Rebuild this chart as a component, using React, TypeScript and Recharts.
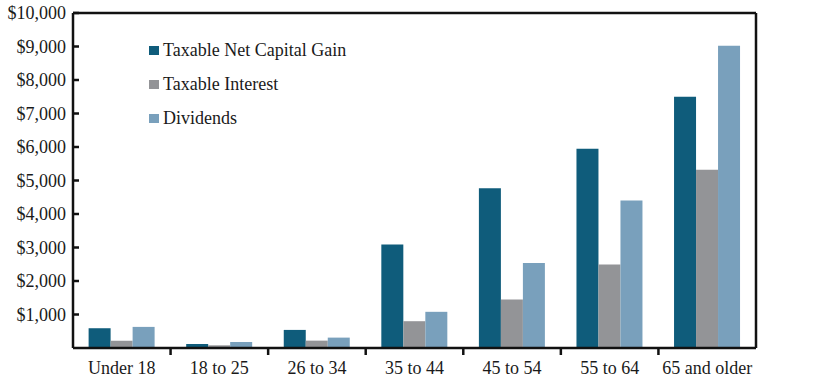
import React from 'react';
import { BarChart, Bar, XAxis, YAxis, ReferenceLine } from 'recharts';

const categories = ['Under 18', '18 to 25', '26 to 34', '35 to 44', '45 to 54', '55 to 64', '65 and older'];
const capitalGain = [590, 120, 540, 3090, 4770, 5950, 7500];
const interest = [220, 80, 220, 800, 1450, 2490, 5320];
const dividends = [630, 180, 310, 1080, 2540, 4400, 9020];
const yTicks = [1000, 2000, 3000, 4000, 5000, 6000, 7000, 8000, 9000, 10000];

const seriesNames = ['Taxable Net Capital Gain', 'Taxable Interest', 'Dividends'];
const colors = ['#0f5c7b', '#939497', '#79a0bc'];

const data = categories.map((c, i) => ({
  name: c,
  gain: capitalGain[i],
  interest: interest[i],
  dividends: dividends[i],
}));

const FONT = "Liberation Serif, 'Times New Roman', Tinos, 'DejaVu Serif', serif";
const AXIS = '#111';
const TEXT = '#1a1a1a';
const FS = 18;

const fmt = (v: number) => '$' + v.toLocaleString('en-US');

const XTick = (props: any) => {
  const { x, y, payload, index } = props;
  const half = payload && payload.offset ? payload.offset : 48.8;
  return (
    <g>
      {index < categories.length - 1 && (
        <line x1={x + half} x2={x + half} y1={y - 7} y2={y - 1} stroke={AXIS} strokeWidth={2.5} />
      )}
      <text x={x} y={y + 18} textAnchor="middle" style={{ fontFamily: FONT, fontSize: FS }} fill={TEXT}>
        {payload.value}
      </text>
    </g>
  );
};

const YTick = (props: any) => {
  const { x, y, payload, textAnchor } = props;
  return (
    <text x={x} y={y} dy={6} textAnchor={textAnchor} style={{ fontFamily: FONT, fontSize: FS }} fill={TEXT}>
      {fmt(payload.value)}
    </text>
  );
};

const LegendBox = () => (
  <div style={{ position: 'absolute', left: 149, top: 33, fontFamily: FONT, fontSize: FS, color: TEXT }}>
    {seriesNames.map((n, i) => (
      <div key={n} style={{ display: 'flex', alignItems: 'center', height: 34 }}>
        <span style={{ display: 'inline-block', width: 10, height: 9, background: colors[i], marginRight: 4 }} />
        <span>{n}</span>
      </div>
    ))}
  </div>
);

export default function App() {
  return (
    <div style={{ position: 'absolute', left: 0, top: 0, width: 834, height: 379, background: '#fff', fontFamily: FONT }}>
      <BarChart
        width={834}
        height={379}
        data={data}
        margin={{ top: 13, right: 0, bottom: 0, left: 0 }}
        barCategoryGap="16%"
        barGap={0}
      >
        <XAxis
          dataKey="name"
          height={31}
          axisLine={{ stroke: AXIS, strokeWidth: 2.5 }}
          tickLine={false}
          tick={<XTick />}
          interval={0}
        />
        <YAxis
          yAxisId="left"
          orientation="left"
          width={73}
          domain={[0, 10000]}
          ticks={yTicks}
          axisLine={{ stroke: AXIS, strokeWidth: 2.5 }}
          tickLine={{ stroke: AXIS, strokeWidth: 2.5 }}
          tickSize={-6}
          tickMargin={13}
          tick={<YTick />}
        />
        <YAxis
          yAxisId="right"
          orientation="right"
          width={78}
          domain={[0, 10000]}
          ticks={yTicks}
          axisLine={{ stroke: AXIS, strokeWidth: 2.5 }}
          tickLine={{ stroke: AXIS, strokeWidth: 2.5 }}
          tickSize={-5}
          tickMargin={14}
          tick={<YTick />}
        />
        <ReferenceLine yAxisId="left" y={10000} stroke={AXIS} strokeWidth={2.5} />
        <Bar yAxisId="left" dataKey="gain" name={seriesNames[0]} fill={colors[0]} isAnimationActive={false} />
        <Bar yAxisId="left" dataKey="interest" name={seriesNames[1]} fill={colors[1]} isAnimationActive={false} />
        <Bar yAxisId="left" dataKey="dividends" name={seriesNames[2]} fill={colors[2]} isAnimationActive={false} />
      </BarChart>
      <LegendBox />
    </div>
  );
}
